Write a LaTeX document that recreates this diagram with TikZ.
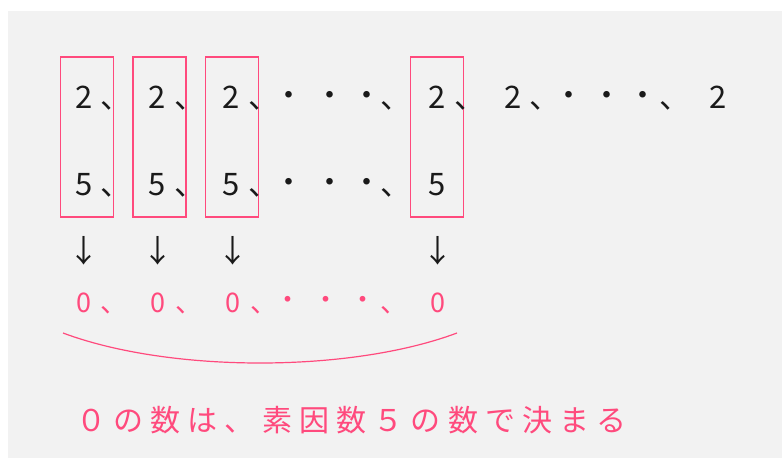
\documentclass[tikz,border=0pt]{standalone}
\usepackage{fontspec}
\newfontfamily\jpfont{Noto Sans CJK JP}
\newfontfamily\jpspaced[LetterSpace=24]{Noto Sans CJK JP}
\definecolor{bggray}{HTML}{F2F2F2}
\definecolor{rosa}{HTML}{FF4A7D}
\definecolor{ink}{HTML}{1A1A1A}
\tikzset{
  num/.style={font=\jpfont\fontsize{31}{31}\selectfont, text=ink, anchor=base, inner sep=0pt},
  tou/.style={num, xshift=8pt},
  zero/.style={num, text=rosa, font=\jpfont\fontsize{27}{27}\selectfont},
  colbox/.style={draw=rosa, line width=1.6pt, minimum width=53pt, minimum height=160pt, inner sep=0pt},
}
\begin{document}
\begin{tikzpicture}[x=1pt,y=-1pt]
\useasboundingbox (0,0) rectangle (782,458);
\fill[bggray] (8,11) rectangle (782,458);

% the pairs that give a zero
\node[colbox] (col1) at (87,137) {};
\node[colbox] (col2) at (159.5,137) {};
\node[colbox] (col3) at (232,137) {};
\node[colbox] (col4) at (437,137) {};

% row of 2
\foreach \x [count=\i] in {84,157,231,437,513,718}{
\node[num] (two\i) at (\x,108) {2};
}
\foreach \x [count=\i] in {108,182,256,388,462,537,667}{
\node[tou] (twoc\i) at (\x,108) {、};
}
\foreach \x [count=\i] in {289,330,367,569,607,643}{
\node[num] (twod\i) at (\x,106) {・};
}

% row of 5
\foreach \x [count=\i] in {84,157,231,437}{
\node[num] (five\i) at (\x,195) {5};
}
\foreach \x [count=\i] in {108,182,256,388}{
\node[tou] (fivec\i) at (\x,195) {、};
}
\foreach \x [count=\i] in {289,330,367}{
\node[num] (fived\i) at (\x,193) {・};
}

% arrows
\foreach \x [count=\i] in {84,158,233,438}{
\node[num, anchor=center] (arr\i) at (\x,251) {↓};
}

% zeros
\foreach \x [count=\i] in {84,158,233,438}{
\node[zero] (zero\i) at (\x,312) {0};
}
\foreach \x [count=\i] in {107,182,257,387}{
\node[zero, xshift=7pt] (zeroc\i) at (\x,312) {、};
}
\foreach \x [count=\i] in {288,326,363}{
\node[zero] (zerod\i) at (\x,309) {・};
}

% brace under the zeros
\coordinate (braceL) at (63,333);
\coordinate (braceR) at (457,333);
\draw[rosa, line width=1.2pt] (braceL) .. controls (170,373) and (350,373) .. (braceR);

\node[anchor=base west, inner sep=0pt, text=rosa, font=\jpspaced\fontsize{30}{30}\selectfont] (note) at (76,431) {０の数は、素因数５の数で決まる};
\end{tikzpicture}
\end{document}
